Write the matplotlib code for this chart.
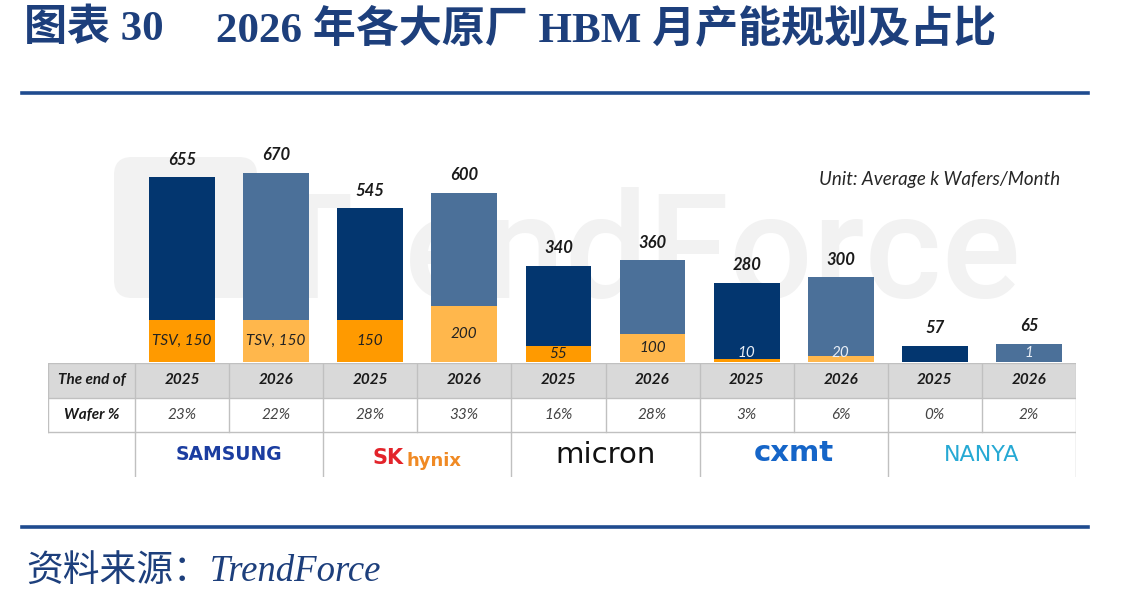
import matplotlib
matplotlib.use('Agg')
import matplotlib.pyplot as plt
from matplotlib.patches import Rectangle, FancyBboxPatch

plt.rcParams['font.family'] = ['Lato', 'DejaVu Sans']

# data
companies = ['SAMSUNG', 'SK hynix', 'micron', 'cxmt', 'NANYA']
years = ['2025', '2026'] * 5
totals = [655, 670, 545, 600, 340, 360, 280, 300, 57, 65]
tsv = [150, 150, 150, 200, 55, 100, 10, 20, 0, 1]
tsv_labels = ['TSV, 150', 'TSV, 150', '150', '200', '55', '100', '10', '20', '', '1']
wafer_pct = ['23%', '22%', '28%', '33%', '16%', '28%', '3%', '6%', '0%', '2%']

W, H = 1127, 603
def fx(x): return x / W
def fy(y): return 1 - y / H

fig = plt.figure(figsize=(W / 100, H / 100), dpi=100)
fig.patch.set_facecolor('white')

# background layer (watermark) under everything
bg = fig.add_axes([0, 0, 1, 1], zorder=0)
bg.set_xlim(0, W)
bg.set_ylim(H, 0)
bg.axis('off')
bg.add_patch(FancyBboxPatch((114, 157), 143, 141, boxstyle='round,pad=0,rounding_size=18',
                            facecolor='#f2f2f2', edgecolor='none'))
bg.text(264, 298, 'TrendForce', family='Roboto', weight='medium', fontsize=106,
        color='#f2f2f2', ha='left', va='baseline')

# title + rules
title_font = ['Liberation Serif', 'Noto Sans CJK SC']
bg.text(24, 29, '图表 30', family=title_font, weight='bold', fontsize=31,
        color='#1d3f7c', va='center', ha='left')
bg.text(216, 29, '2026 年各大原厂 HBM 月产能规划及占比', family=title_font, weight='bold',
        fontsize=31, color='#1d3f7c', va='center', ha='left')
bg.plot([22, 1088], [93, 93], color='#1f4b8f', lw=2.6)
bg.plot([22, 1088], [527, 527], color='#1f4b8f', lw=2.6)
bg.text(26, 572, '资料来源：TrendForce', family=title_font, style='italic', fontsize=26.5,
        color='#1d3f7c', va='center', ha='left')
bg.text(1060, 180, 'Unit: Average k Wafers/Month', ha='right', va='center',
        fontsize=13.5, style='italic', color='#262626')

# bar axes
left_px, right_px = 48, 1076
base_px, top_px = 362, 140
lab_w = 87 / 94.1
ax = fig.add_axes([fx(left_px), fy(base_px), (right_px - left_px) / W, (base_px - top_px) / H],
                  zorder=2)
ax.set_xlim(-0.5 - lab_w, 9.5)
ax.set_ylim(0, (base_px - top_px) / 0.2821)
ax.patch.set_alpha(0)
ax.axis('off')

x = list(range(10))
dark = ['#03366f', '#4b7099']
orange = ['#ff9a00', '#ffb74c']
bar_c = [dark[i % 2] for i in x]
org_c = [orange[i % 2] for i in x]
upper = [t - s for t, s in zip(totals, tsv)]
ax.bar(x, tsv, width=0.7, color=org_c, zorder=2)
ax.bar(x, upper, bottom=tsv, width=0.7, color=bar_c, zorder=2)

for i in x:
    ax.annotate(str(totals[i]), (i, totals[i]), xytext=(0, 7), textcoords='offset points',
                ha='center', va='bottom', fontsize=12, weight='bold', style='italic', color='#1a1a1a')
    if tsv[i] >= 50:
        ax.text(i, tsv[i] / 2, tsv_labels[i], ha='center', va='center', fontsize=11,
                style='italic', color='#222222', zorder=3)
    elif tsv_labels[i]:
        ax.text(i, 32, tsv_labels[i], ha='center', va='center', fontsize=11,
                style='italic', color='#e8eef6', zorder=3)

# table axes
tb = fig.add_axes([fx(left_px), fy(477), (right_px - left_px) / W, (477 - 363) / H], zorder=2)
tb.set_xlim(-0.5 - lab_w, 9.5)
tb.set_ylim(114, 0)
tb.axis('off')
x0 = -0.5 - lab_w
grid = '#c0c0c0'
tb.add_patch(Rectangle((x0, 0), 9.5 - x0, 35, facecolor='#d9d9d9', edgecolor='none'))
for yy in [0, 35, 69]:
    tb.plot([x0, 9.5], [yy, yy], color=grid, lw=1)
tb.plot([x0, x0], [0, 69], color=grid, lw=1)
for k in range(11):
    tb.plot([k - 0.5, k - 0.5], [0, 69], color=grid, lw=1)
for k in range(0, 11, 2):
    tb.plot([k - 0.5, k - 0.5], [69, 114], color=grid, lw=1)

tb.text((x0 - 0.5) / 2, 17.5, 'The end of', ha='center', va='center', fontsize=11,
        weight='bold', style='italic', color='#1a1a1a')
tb.text((x0 - 0.5) / 2, 52, 'Wafer %', ha='center', va='center', fontsize=11,
        weight='bold', style='italic', color='#1a1a1a')
for i in x:
    tb.text(i, 17.5, years[i], ha='center', va='center', fontsize=11,
            weight='bold', style='italic', color='#1a1a1a')
    tb.text(i, 52, wafer_pct[i], ha='center', va='center', fontsize=11,
            style='italic', color='#444444')

# company "logos" as text
ly = 92
tb.text(0.5, ly, companies[0], ha='center', va='center', fontsize=13.5, weight='black',
        color='#1b3da0', family='DejaVu Sans')
tb.text(2.35, ly + 3, 'SK', ha='right', va='center', fontsize=15, weight='bold',
        color='#e3242b', family='DejaVu Sans')
tb.text(2.39, ly + 6, 'hynix', ha='left', va='center', fontsize=13, weight='bold',
        color='#f08a24', family='DejaVu Sans')
tb.text(4.5, ly, companies[2], ha='center', va='center', fontsize=21,
        color='#111111', family='DejaVu Sans')
tb.text(6.5, ly - 2, companies[3], ha='center', va='center', fontsize=21, weight='bold',
        color='#1565c8', family='DejaVu Sans')
tb.text(8.5, ly, companies[4], ha='center', va='center', fontsize=16,
        color='#26a9d4', family='DejaVu Sans')

fig.savefig('out.png', dpi=100, facecolor='white')
